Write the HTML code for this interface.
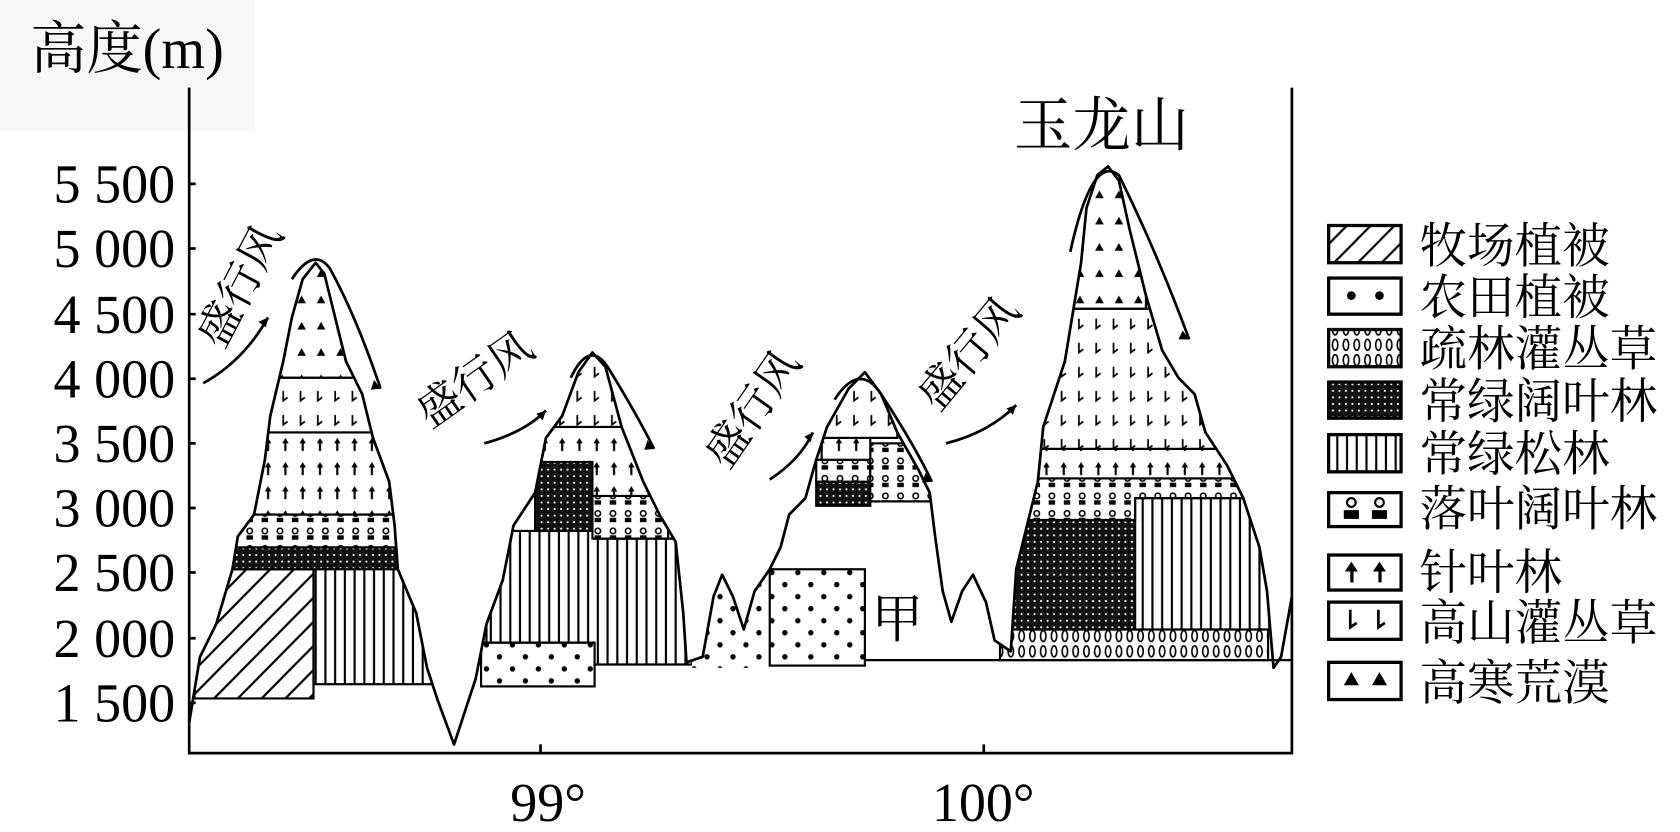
<!DOCTYPE html>
<html><head><meta charset="utf-8"><style>
html,body{margin:0;padding:0;background:#fff;}
svg{display:block;}
text{font-family:"Liberation Serif","Noto Serif CJK SC","Noto Sans CJK SC",serif;fill:#000;}
</style></head><body>
<svg width="1680" height="832" viewBox="0 0 1554 760" preserveAspectRatio="none" xmlns="http://www.w3.org/2000/svg">
<defs>
<pattern id="hatch" width="22" height="22" patternUnits="userSpaceOnUse"><rect width="22" height="22" fill="#fff"/><path d="M-2,24 L24,-2 M-13,13 L13,-13 M9,35 L35,9" stroke="#000" stroke-width="2"/></pattern>
<pattern id="dots" width="24" height="22" patternUnits="userSpaceOnUse"><rect width="24" height="22" fill="#fff"/><circle cx="6" cy="6" r="2.5"/><circle cx="18" cy="17" r="2.5"/></pattern>
<pattern id="sparse" width="10" height="14" patternUnits="userSpaceOnUse"><rect width="10" height="14" fill="#fff"/><ellipse cx="5" cy="7" rx="2.5" ry="5" fill="none" stroke="#000" stroke-width="1.5"/></pattern>
<pattern id="dense" width="6" height="6" patternUnits="userSpaceOnUse"><rect width="6" height="6" fill="#111"/><circle cx="3" cy="3" r="1" fill="#fff"/></pattern>
<pattern id="pine" width="9" height="20" patternUnits="userSpaceOnUse"><rect width="9" height="20" fill="#fff"/><rect x="3" width="2" height="20" fill="#000"/></pattern>
<pattern id="decid" width="14" height="16" patternUnits="userSpaceOnUse"><rect width="14" height="16" fill="#fff"/><circle cx="7" cy="5" r="2.5" fill="none" stroke="#000" stroke-width="1.5"/><rect x="4" y="9" width="6" height="4"/></pattern>
<pattern id="needle" width="16" height="22" patternUnits="userSpaceOnUse"><rect width="16" height="22" fill="#fff"/><path d="M8,4 L5,9 L11,9 Z"/><rect x="7" y="8" width="2" height="8"/></pattern>
<pattern id="shrub" width="16" height="22" patternUnits="userSpaceOnUse"><rect width="16" height="22" fill="#fff"/><path d="M6,5 L6,14 L10,11" stroke="#000" stroke-width="1.6" fill="none"/></pattern>
<pattern id="desert" width="18" height="24" patternUnits="userSpaceOnUse"><rect width="18" height="24" fill="#fff"/><path d="M9,6 L5,13 L13,13 Z"/></pattern>
<clipPath id="prof"><path d="M175,660 L185,600 L200,570 L215,520 L220,490 L235,470 L245,420 L250,380 L262,330 L270,290 L280,255 L292,240 L300,250 L310,290 L320,330 L335,360 L345,400 L360,440 L365,480 L368,520 L385,560 L395,610 L405,640 L420,680 L430,650 L440,620 L450,570 L465,530 L475,480 L495,450 L505,400 L520,380 L535,340 L548,322 L560,335 L575,390 L595,440 L610,470 L625,495 L632,560 L635,605 L650,600 L660,545 L668,525 L678,545 L688,575 L698,540 L712,520 L722,500 L730,470 L745,455 L755,420 L765,390 L785,355 L800,340 L815,360 L830,395 L850,430 L860,450 L865,490 L872,540 L880,568 L890,540 L900,525 L912,550 L920,585 L935,595 L940,520 L960,440 L965,390 L985,330 L1000,240 L1005,190 L1015,160 L1025,152 L1035,165 L1045,210 L1060,270 L1075,320 L1090,345 L1105,360 L1115,395 L1135,425 L1150,455 L1165,500 L1172,540 L1178,610 L1185,600 L1195,545 L1195,700 L175,700 Z"/></clipPath>
</defs>
<rect width="1554" height="760" fill="#fff"/>
<rect x="0" y="0" width="235" height="120" fill="#f7f7f7"/>
<text x="28" y="62" font-size="52">高度(m)</text>
<g font-size="50" text-anchor="end">
<text x="162" y="185">5 500</text><text x="162" y="244">5 000</text><text x="162" y="304">4 500</text><text x="162" y="363">4 000</text><text x="162" y="422">3 500</text><text x="162" y="481">3 000</text><text x="162" y="540">2 500</text><text x="162" y="600">2 000</text><text x="162" y="659">1 500</text>
</g>
<g stroke="#000" stroke-width="2.5" fill="none">
<path d="M175,80 L175,688 L1195,688 L1195,80"/>
<path d="M175,168 h6 M175,227 h6 M175,287 h6 M175,346 h6 M175,405 h6 M175,464 h6 M175,523 h6 M175,583 h6 M175,642 h6 M500,688 v-8 M910,688 v-8"/>
</g>
<text x="472" y="750" font-size="50">99°</text>
<text x="862" y="750" font-size="50">100°</text>
<text x="938" y="133" font-size="54">玉龙山</text>
<g clip-path="url(#prof)" stroke="#000" stroke-width="2">
<path d="M180,638 L290,638 L290,520 L210,520 L180,600 Z" fill="url(#hatch)"/>
<rect x="290" y="515" width="110" height="110" fill="url(#pine)"/>
<rect x="210" y="500" width="160" height="20" fill="url(#dense)"/>
<rect x="215" y="470" width="152" height="30" fill="url(#decid)"/>
<rect x="225" y="395" width="140" height="75" fill="url(#needle)"/>
<rect x="240" y="345" width="110" height="50" fill="url(#shrub)"/>
<rect x="250" y="230" width="90" height="115" fill="url(#desert)"/>
<rect x="445" y="587" width="105" height="40" fill="url(#dots)"/>
<path d="M450,587 L550,587 L550,607 L640,607 L640,492 L550,492 L550,485 L450,485 Z" fill="url(#pine)"/>
<rect x="495" y="422" width="53" height="63" fill="url(#dense)"/>
<rect x="548" y="453" width="70" height="39" fill="url(#decid)"/>
<path d="M495,422 L548,422 L548,453 L620,453 L620,390 L495,390 Z" fill="url(#needle)"/>
<rect x="495" y="310" width="120" height="80" fill="url(#shrub)"/>
<rect x="640" y="520" width="72" height="90" fill="url(#dots)" stroke="none"/>
<rect x="712" y="520" width="88" height="88" fill="url(#dots)"/>
<rect x="755" y="440" width="50" height="22" fill="url(#dense)"/>
<rect x="755" y="420" width="50" height="20" fill="url(#decid)"/>
<rect x="805" y="405" width="60" height="53" fill="url(#decid)"/>
<rect x="760" y="400" width="45" height="20" fill="url(#needle)"/>
<rect x="760" y="330" width="70" height="70" fill="url(#shrub)"/>
<rect x="925" y="575" width="248" height="28" fill="url(#sparse)"/>
<rect x="930" y="475" width="120" height="100" fill="url(#dense)"/>
<rect x="1050" y="455" width="125" height="120" fill="url(#pine)"/>
<path d="M950,437 L1150,437 L1150,455 L1050,455 L1050,475 L950,475 Z" fill="url(#decid)"/>
<rect x="960" y="410" width="180" height="27" fill="url(#needle)"/>
<rect x="960" y="282" width="170" height="128" fill="url(#shrub)"/>
<rect x="990" y="150" width="70" height="132" fill="url(#desert)"/>
</g>
<path d="M800,603 L1195,603" stroke="#000" stroke-width="2"/>
<text x="806" y="582" font-size="48">甲</text>
<path d="M175,660 L185,600 L200,570 L215,520 L220,490 L235,470 L245,420 L250,380 L262,330 L270,290 L280,255 L292,240 L300,250 L310,290 L320,330 L335,360 L345,400 L360,440 L365,480 L368,520 L385,560 L395,610 L405,640 L420,680 L430,650 L440,620 L450,570 L465,530 L475,480 L495,450 L505,400 L520,380 L535,340 L548,322 L560,335 L575,390 L595,440 L610,470 L625,495 L632,560 L635,605 L650,600 L660,545 L668,525 L678,545 L688,575 L698,540 L712,520 L722,500 L730,470 L745,455 L755,420 L765,390 L785,355 L800,340 L815,360 L830,395 L850,430 L860,450 L865,490 L872,540 L880,568 L890,540 L900,525 L912,550 L920,585 L935,595 L940,520 L960,440 L965,390 L985,330 L1000,240 L1005,190 L1015,160 L1025,152 L1035,165 L1045,210 L1060,270 L1075,320 L1090,345 L1105,360 L1115,395 L1135,425 L1150,455 L1165,500 L1172,540 L1178,610 L1185,600 L1195,545" fill="none" stroke="#000" stroke-width="2.5" stroke-linejoin="round"/>
<g stroke="#000" stroke-width="2.5" fill="none">
<path d="M188,350 Q225,330 248,290"/><path d="M270,255 Q290,225 305,245 Q330,290 352,355"/>
<path d="M448,405 Q485,395 505,375"/><path d="M528,345 Q545,310 562,335 Q590,380 605,410"/>
<path d="M712,438 Q740,420 752,395"/><path d="M772,365 Q795,330 815,360 Q845,405 862,440"/>
<path d="M875,405 Q915,395 940,370"/><path d="M990,230 Q1010,140 1035,160 Q1070,230 1100,310"/>
</g>
<g fill="#000"><path d="M248,290 l-9,4 l7,5z"/><path d="M352,355 l-6,-8 l-3,9z"/><path d="M505,375 l-9,3 l6,6z"/><path d="M605,410 l-6,-8 l-3,9z"/><path d="M752,395 l-8,4 l6,5z"/><path d="M862,440 l-6,-8 l-3,9z"/><path d="M940,370 l-9,3 l6,6z"/><path d="M1100,310 l-6,-8 l-4,8z"/></g>
<g font-size="40" font-family="'Noto Sans CJK SC',sans-serif">
<text transform="translate(206,320) rotate(-62)">盛行风</text>
<text transform="translate(398,392) rotate(-35)">盛行风</text>
<text transform="translate(673,430) rotate(-55)">盛行风</text>
<text transform="translate(868,377) rotate(-50)">盛行风</text>
</g>
<g stroke="#000" stroke-width="3">
<rect x="1229" y="206" width="67" height="34" fill="url(#hatch)"/>
<rect x="1229" y="254" width="67" height="33" fill="#fff"/>
<rect x="1229" y="301" width="67" height="34" fill="url(#sparse)"/>
<rect x="1229" y="349" width="67" height="33" fill="url(#dense)"/>
<rect x="1229" y="397" width="67" height="34" fill="url(#pine)"/>
<rect x="1229" y="450" width="67" height="31" fill="#fff"/>
<rect x="1229" y="507" width="67" height="32" fill="#fff"/>
<rect x="1229" y="550" width="67" height="34" fill="#fff"/>
<rect x="1229" y="605" width="67" height="34" fill="#fff"/>
</g>
<g fill="#000">
<circle cx="1250" cy="270" r="4"/><circle cx="1276" cy="270" r="4"/>
<circle cx="1250" cy="459" r="4" fill="none" stroke="#000" stroke-width="2"/><circle cx="1276" cy="459" r="4" fill="none" stroke="#000" stroke-width="2"/>
<rect x="1243" y="466" width="14" height="8"/><rect x="1269" y="466" width="14" height="8"/>
<path d="M1250,513 l-6,9 h12z M1276,513 l-6,9 h12z"/><rect x="1249" y="521" width="3" height="11"/><rect x="1275" y="521" width="3" height="11"/>
<path d="M1250,614 l-7,12 h14z M1276,614 l-7,12 h14z"/>
</g>
<path d="M1249,557 v16 l6,-4 M1275,557 v16 l6,-4" stroke="#000" stroke-width="2.5" fill="none"/>
<g font-size="44" font-family="'Noto Serif CJK SC','Noto Sans CJK SC',serif">
<text x="1313" y="240">牧场植被</text>
<text x="1313" y="287">农田植被</text>
<text x="1313" y="334">疏林灌丛草</text>
<text x="1313" y="382">常绿阔叶林</text>
<text x="1313" y="430">常绿松林</text>
<text x="1313" y="480">落叶阔叶林</text>
<text x="1313" y="538">针叶林</text>
<text x="1313" y="584">高山灌丛草</text>
<text x="1313" y="639">高寒荒漠</text>
</g>
</svg>
</body></html>
